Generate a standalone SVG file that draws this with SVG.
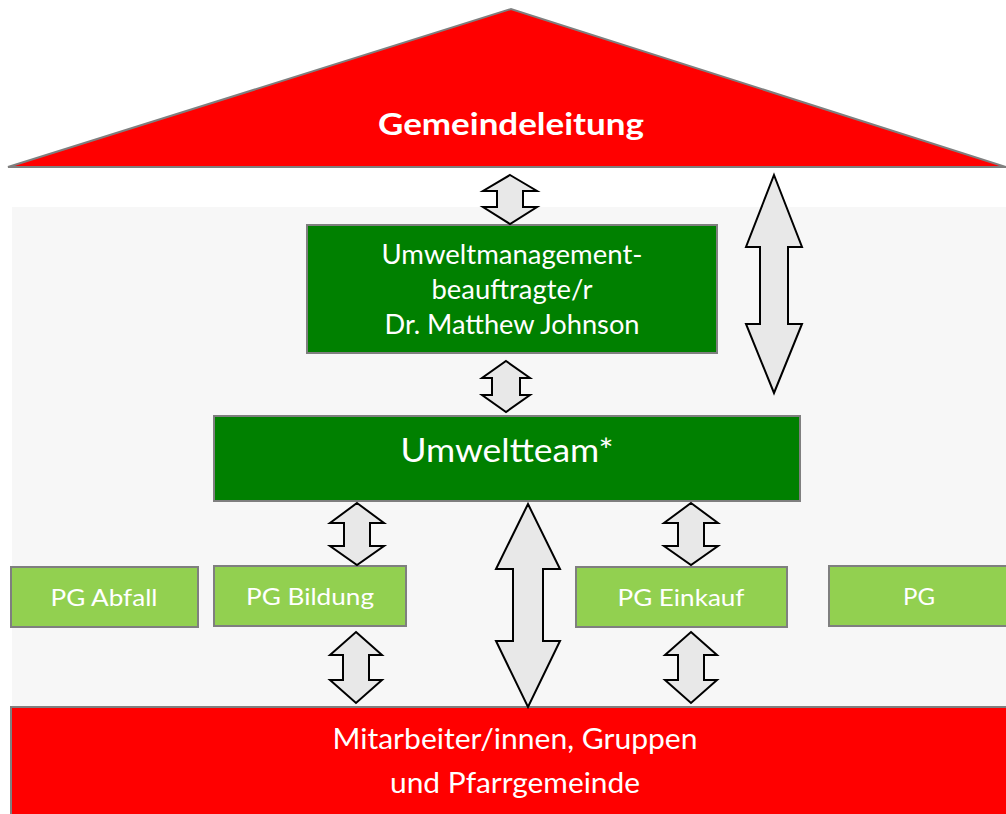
<svg xmlns="http://www.w3.org/2000/svg" width="1006" height="814" viewBox="0 0 1006 814">
<style>
.box{stroke:#7f7f7f;stroke-width:2}
.red{fill:#ff0000}
.dg{fill:#008000}
.lg{fill:#92d050}
.arr{fill:#e8e8e8;stroke:#000;stroke-width:2;stroke-linejoin:miter}
text{font-family:Lato,"Open Sans","Liberation Sans",sans-serif;fill:#fff;text-anchor:middle}
.t24{font-size:26px}
.t22{font-size:24px}
</style>
<rect width="1006" height="814" fill="#ffffff"/>
<rect x="12" y="207" width="994" height="501" fill="#f7f7f7"/>

<g id="gemeindeleitung">
<polygon class="box red" points="8,167 511,9 1006,167"/>
<text x="511" y="135" font-size="31" font-weight="bold" textLength="266" lengthAdjust="spacingAndGlyphs">Gemeindeleitung</text>
</g>

<g id="umweltmanagementbeauftragte">
<rect class="box dg" x="307" y="225" width="410" height="128"/>
<text class="t24" x="512" y="264" textLength="261" lengthAdjust="spacingAndGlyphs">Umweltmanagement-</text>
<text class="t24" x="512" y="299" textLength="161" lengthAdjust="spacingAndGlyphs">beauftragte/r</text>
<text class="t24" x="512" y="334" textLength="255" lengthAdjust="spacingAndGlyphs">Dr. Matthew Johnson</text>
</g>

<g id="umweltteam">
<rect class="box dg" x="214" y="416" width="586" height="85"/>
<text x="507" y="462" font-size="33" textLength="213" lengthAdjust="spacingAndGlyphs">Umweltteam*</text>
</g>

<g id="pg-abfall">
<rect class="box lg" x="11" y="567" width="187" height="60"/>
<text class="t22" x="104" y="606" textLength="107" lengthAdjust="spacingAndGlyphs">PG Abfall</text>
</g>
<g id="pg-bildung">
<rect class="box lg" x="214" y="566" width="192" height="60"/>
<text class="t22" x="310" y="605" textLength="128" lengthAdjust="spacingAndGlyphs">PG Bildung</text>
</g>
<g id="pg-einkauf">
<rect class="box lg" x="576" y="567" width="211" height="60"/>
<text class="t22" x="681" y="606" textLength="127" lengthAdjust="spacingAndGlyphs">PG Einkauf</text>
</g>
<g id="pg">
<rect class="box lg" x="829" y="566" width="190" height="60"/>
<text class="t22" x="919" y="605" textLength="32" lengthAdjust="spacingAndGlyphs">PG</text>
</g>

<g id="mitarbeiter">
<rect class="box red" x="11" y="707" width="1010" height="120"/>
<text x="515" y="749" font-size="29" textLength="365" lengthAdjust="spacingAndGlyphs">Mitarbeiter/innen, Gruppen</text>
<text x="515" y="793" font-size="29" textLength="250" lengthAdjust="spacingAndGlyphs">und Pfarrgemeinde</text>
</g>

<g id="connectors">
<polygon class="arr" points="510,175 537,191 523,191 523,207 537,207 510,224 483,207 497,207 497,191 483,191"/>
<polygon class="arr" points="506,361 530,378 520,378 520,395 530,395 506,412 482,395 492,395 492,378 482,378"/>
<polygon class="arr" points="774,175 802,247 788,247 788,324 802,324 774,393 746,324 760,324 760,247 746,247"/>
<polygon class="arr" points="357,503 384,523 370,523 370,546 384,546 357,565 330,546 344,546 344,523 330,523"/>
<polygon class="arr" points="691,503 718,523 704,523 704,546 718,546 691,565 664,546 678,546 678,523 664,523"/>
<polygon class="arr" points="528,504 560,569 543,569 543,641 560,641 528,707 496,641 513,641 513,569 496,569"/>
<polygon class="arr" points="356,632 382,655 369,655 369,680 382,680 356,703 330,680 343,680 343,655 330,655"/>
<polygon class="arr" points="691,632 717,655 704,655 704,680 717,680 691,703 665,680 678,680 678,655 665,655"/>
</g>
</svg>
